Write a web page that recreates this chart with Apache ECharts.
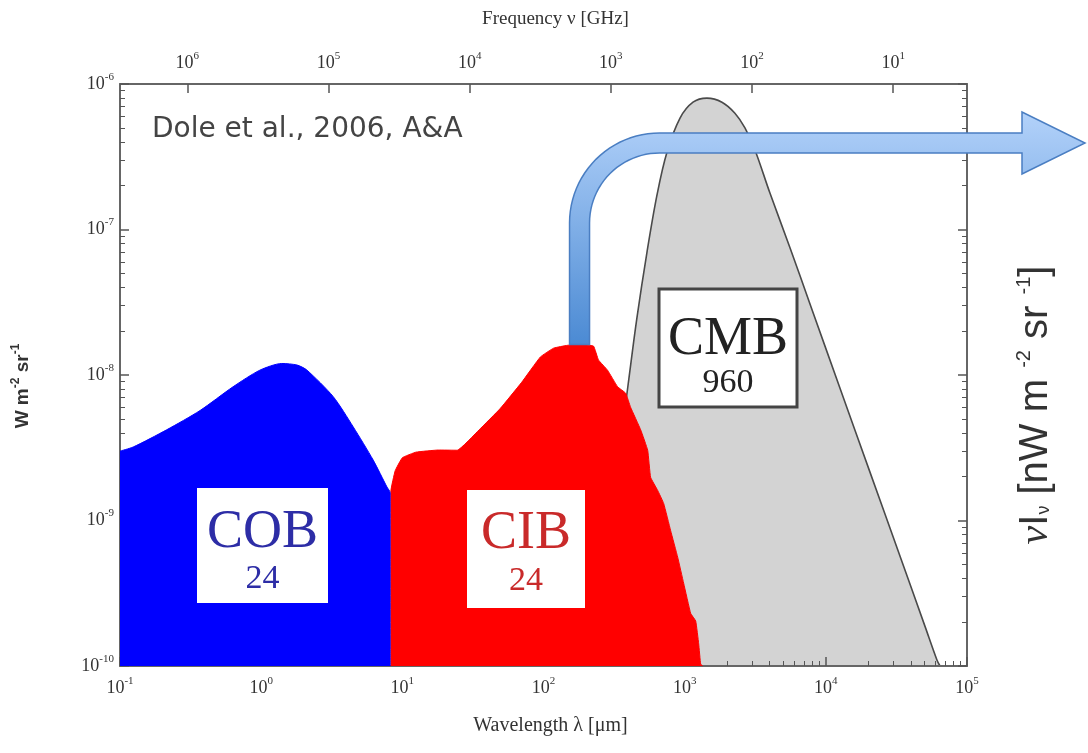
<!DOCTYPE html>
<html>
<head>
<meta charset="utf-8">
<script src="https://cdn.jsdelivr.net/npm/echarts@6/dist/echarts.min.js"></script>
<style>
  html, body { margin: 0; padding: 0; background: #ffffff; }
  #chart { width: 1088px; height: 753px; }
</style>
</head>
<body>
<div id="chart"></div>
<script>
// Extragalactic background spectra: wavelength in micrometres, nu*I_nu in W m^-2 sr^-1
const wavelengthTicks = [0.1, 1, 10, 100, 1000, 1e4, 1e5];
const frequencyTicks = [1e6, 1e5, 1e4, 1e3, 1e2, 10];
const intensityTicks = [1e-10, 1e-9, 1e-8, 1e-7, 1e-6];

// Cosmic optical background
const cobSpectrum = [
  [0.1, 3.0e-9], [0.124, 3.2e-9], [0.214, 4.2e-9], [0.369, 5.7e-9], [0.632, 8.3e-9],
  [0.98, 1.08e-8], [1.4, 1.2e-8], [1.8, 1.17e-8], [2.11, 1.08e-8], [3.24, 7.1e-9],
  [4.49, 4.4e-9], [6.22, 2.6e-9], [7.78, 1.7e-9], [8.2, 1.55e-9], [8.2, 1e-10]
];

// Cosmic infrared background
const cibSpectrum = [
  [8.3, 1e-10], [8.3, 1.6e-9], [8.9, 2.2e-9], [10.0, 2.7e-9], [12.5, 2.95e-9],
  [18, 3.05e-9], [24.5, 3.04e-9], [35, 4.2e-9], [49.5, 5.9e-9], [70, 8.9e-9],
  [95, 1.33e-8], [118, 1.53e-8], [148, 1.6e-8], [180, 1.62e-8], [226, 1.58e-8],
  [245, 1.27e-8], [284, 1.08e-8], [335, 8.3e-9], [382, 7.5e-9], [414, 6.0e-9],
  [488, 4.2e-9], [547, 3.04e-9], [574, 1.98e-9], [644, 1.61e-9], [710, 1.31e-9],
  [796, 8.5e-10], [892, 5.6e-10], [984, 3.7e-10], [1103, 2.3e-10], [1197, 2.04e-10],
  [1257, 1.42e-10], [1298, 1.03e-10], [1343, 1e-10]
];

// Cosmic microwave background
const cmbSpectrum = [
  [240, 1e-10], [275, 5.3e-10], [324, 1.89e-9], [369, 4.9e-9], [397, 8.5e-9],
  [459, 2.47e-8], [541, 7.0e-8], [637, 1.73e-7], [750, 3.41e-7], [927, 5.83e-7],
  [1146, 7.5e-7], [1439, 8.0e-7], [1837, 7.5e-7], [2270, 6.3e-7], [2673, 4.99e-7],
  [3147, 3.52e-7], [4018, 1.78e-7], [5572, 7.5e-8], [7722, 3.08e-8], [12600, 8.1e-9],
  [20540, 2.15e-9], [33500, 5.7e-10], [50350, 1.88e-10], [61240, 1.1e-10], [64400, 1e-10]
];

// Integrated brightness of each background, nW m^-2 sr^-1
const backgroundNames = ['COB', 'CIB', 'CMB'];
const backgroundTotals = ['24', '24', '960'];

// minor log ticks 2..9 within each decade
function minorTicks(majors) {
  const out = [];
  for (let i = 0; i < majors.length - 1; i++) {
    const lo = Math.min(majors[i], majors[i + 1]);
    for (let k = 2; k <= 9; k++) out.push(k * lo);
  }
  return out;
}

const tickFont = 'Liberation Serif';
const powLabel = function (v) {
  const e = Math.round(Math.log10(v));
  return '10{e|' + e + '}';
};
const powRich = {
  e: { fontSize: 11, fontFamily: tickFont, color: '#333', padding: [0, 0, 14, 0] }
};
const frameLine = { show: true, onZero: false, lineStyle: { color: '#666', width: 2 } };
const majorTickStyle = { color: '#555', width: 1.5 };

// axes sit above the grey CMB fill and below the COB/CIB fills
function logAxis(extra) {
  return Object.assign({
    type: 'log',
    logBase: 10,
    z: 2,
    splitLine: { show: false },
    minorTick: { show: false }
  }, extra);
}

const chart = echarts.init(document.getElementById('chart'), null, { renderer: 'canvas' });

const option = {
  backgroundColor: '#ffffff',
  animation: false,
  grid: {
    left: 120, right: 121, top: 84, bottom: 87,
    containLabel: false,
    outerBoundsMode: 'none'
  },
  xAxis: [
    logAxis({
      min: 0.1, max: 1e5, position: 'bottom',
      axisLine: frameLine,
      axisTick: { inside: true, length: 9, lineStyle: majorTickStyle, customValues: wavelengthTicks },
      axisLabel: {
        customValues: wavelengthTicks, formatter: powLabel, margin: 10,
        fontFamily: tickFont, fontSize: 18, color: '#333', rich: powRich
      },
      name: 'Wavelength λ [μm]', nameLocation: 'middle', nameGap: 50,
      nameTextStyle: { fontFamily: tickFont, fontSize: 20, color: '#333', padding: [0, 0, 0, 14] }
    }),
    logAxis({
      min: 3, max: 3e6, inverse: true, position: 'top',
      axisLine: frameLine,
      axisTick: { inside: true, length: 9, lineStyle: majorTickStyle, customValues: frequencyTicks },
      axisLabel: {
        customValues: frequencyTicks, formatter: powLabel, margin: 8,
        fontFamily: tickFont, fontSize: 18, color: '#333', rich: powRich
      },
      name: 'Frequency ν [GHz]', nameLocation: 'middle', nameGap: 55,
      nameTextStyle: { fontFamily: tickFont, fontSize: 19, color: '#333', padding: [0, 0, 0, 24] }
    }),
    logAxis({
      min: 0.1, max: 1e5, position: 'bottom',
      axisLine: { show: false },
      axisTick: { inside: true, length: 5, lineStyle: { color: '#555', width: 1 }, customValues: minorTicks(wavelengthTicks) },
      axisLabel: { show: false }
    })
  ],
  yAxis: [
    logAxis({
      min: 1e-10, max: 1e-6, position: 'left',
      axisLine: frameLine,
      axisTick: { inside: true, length: 9, lineStyle: majorTickStyle, customValues: intensityTicks },
      axisLabel: {
        customValues: intensityTicks, formatter: powLabel, margin: 6,
        fontFamily: tickFont, fontSize: 18, color: '#333', rich: powRich
      },
      name: 'W m{s|-2} sr{s|-1}', nameLocation: 'middle', nameGap: 84, nameRotate: 90,
      nameTextStyle: {
        fontFamily: 'Liberation Sans', fontWeight: 'bold', fontSize: 19, color: '#333',
        padding: [0, 22, 0, 0],
        rich: { s: { fontFamily: 'Liberation Sans', fontWeight: 'bold', fontSize: 12, color: '#333', padding: [0, 0, 14, 0] } }
      }
    }),
    logAxis({
      min: 1e-10, max: 1e-6, position: 'right',
      axisLine: frameLine,
      axisTick: { inside: true, length: 9, lineStyle: majorTickStyle, customValues: intensityTicks },
      axisLabel: { show: false }
    }),
    logAxis({
      min: 1e-10, max: 1e-6, position: 'left',
      axisLine: { show: false },
      axisTick: { inside: true, length: 5, lineStyle: { color: '#555', width: 1 }, customValues: minorTicks(intensityTicks) },
      axisLabel: { show: false }
    }),
    logAxis({
      min: 1e-10, max: 1e-6, position: 'right',
      axisLine: { show: false },
      axisTick: { inside: true, length: 5, lineStyle: { color: '#555', width: 1 }, customValues: minorTicks(intensityTicks) },
      axisLabel: { show: false }
    })
  ],
  series: [
    {
      name: backgroundNames[2], type: 'line', data: cmbSpectrum,
      xAxisIndex: 0, yAxisIndex: 0, smooth: 0.35, showSymbol: false, z: 1,
      lineStyle: { color: '#4a4a4a', width: 1.6 },
      areaStyle: { color: '#d3d3d3', opacity: 1, origin: 'start' }
    },
    {
      name: backgroundNames[1], type: 'line', data: cibSpectrum,
      xAxisIndex: 0, yAxisIndex: 0, smooth: 0.1, showSymbol: false, z: 3,
      lineStyle: { color: '#ff0000', width: 1 },
      areaStyle: { color: '#ff0000', opacity: 1, origin: 'start' }
    },
    {
      name: backgroundNames[0], type: 'line', data: cobSpectrum,
      xAxisIndex: 0, yAxisIndex: 0, smooth: 0.25, showSymbol: false, z: 3,
      lineStyle: { color: '#0000ff', width: 1 },
      areaStyle: { color: '#0000ff', opacity: 1, origin: 'start' }
    }
  ]
};

chart.setOption(option);

// The arrow rises from the top of the infrared peak
let peak = cibSpectrum[0];
cibSpectrum.forEach(function (p) { if (p[1] > peak[1]) peak = p; });
const anchor = chart.convertToPixel({ xAxisIndex: 0, yAxisIndex: 0 }, peak);

const xa = anchor[0], ya = anchor[1];
const half = 10, bend = 80, yc = 143, shaftEnd = 1022, tipX = 1085, headHalf = 31;
const cx = xa + bend, cy = yc + bend;
const arrowPoints = [[xa - half, ya]];
for (let i = 0; i <= 24; i++) {
  const t = Math.PI + (Math.PI / 2) * i / 24;
  arrowPoints.push([cx + (bend + half) * Math.cos(t), cy + (bend + half) * Math.sin(t)]);
}
arrowPoints.push([shaftEnd, yc - half], [shaftEnd, yc - headHalf], [tipX, yc],
  [shaftEnd, yc + headHalf], [shaftEnd, yc + half]);
for (let i = 24; i >= 0; i--) {
  const t = Math.PI + (Math.PI / 2) * i / 24;
  arrowPoints.push([cx + (bend - half) * Math.cos(t), cy + (bend - half) * Math.sin(t)]);
}
arrowPoints.push([xa + half, ya]);

function labelBox(id, x, y, w, h, name, total, color, bordered, nameAt, totalAt) {
  return {
    type: 'group', id: id,
    children: [
      {
        type: 'rect', z: 20, shape: { x: x, y: y, width: w, height: h },
        style: { fill: '#ffffff', stroke: bordered ? '#444' : null, lineWidth: bordered ? 3 : 0 }
      },
      {
        type: 'text', z: 21, x: x + w / 2, y: y + h * nameAt,
        style: { text: name, fill: color, font: '54px "Liberation Serif"', align: 'center', verticalAlign: 'middle' }
      },
      {
        type: 'text', z: 21, x: x + w / 2, y: y + h * totalAt,
        style: { text: total, fill: color, font: '34px "Liberation Serif"', align: 'center', verticalAlign: 'middle' }
      }
    ]
  };
}

chart.setOption({
  graphic: [
    labelBox('cob-box', 197, 488, 131, 115, backgroundNames[0], backgroundTotals[0], '#2d2da6', false, 0.39, 0.79),
    labelBox('cib-box', 467, 490, 118, 118, backgroundNames[1], backgroundTotals[1], '#c92a2a', false, 0.37, 0.77),
    labelBox('cmb-box', 659, 289, 138, 118, backgroundNames[2], backgroundTotals[2], '#222222', true, 0.43, 0.8),
    {
      type: 'text', id: 'credit', x: 152, y: 130, z: 20,
      style: { text: 'Dole et al., 2006, A&A', fill: '#444', font: '28px "DejaVu Sans"', align: 'left', verticalAlign: 'middle' }
    },
    {
      type: 'polygon', id: 'arrow', z: 30,
      shape: { points: arrowPoints },
      style: {
        fill: {
          type: 'linear', x: 0, y: 0, x2: 0, y2: 1,
          colorStops: [{ offset: 0, color: '#b3d2fa' }, { offset: 1, color: '#4b8ad3' }]
        },
        stroke: '#4a7ec2', lineWidth: 1.5
      }
    },
    {
      type: 'text', id: 'flux-unit', x: 1036, y: 405, rotation: Math.PI / 2, z: 20,
      style: {
        text: '{g|ν}I{b|ν} [nW m {p|-2} sr {p|-1}]',
        fill: '#333', font: '40px "Liberation Sans"', align: 'center', verticalAlign: 'middle',
        rich: {
          g: { fontFamily: 'Liberation Serif', fontStyle: 'italic', fontSize: 42, fill: '#333' },
          b: { fontFamily: 'Liberation Sans', fontSize: 18, fill: '#333', padding: [16, 0, 0, 0] },
          p: { fontFamily: 'Liberation Sans', fontSize: 20, fill: '#333', padding: [0, 0, 24, 0] }
        }
      }
    }
  ]
});
</script>
</body>
</html>
